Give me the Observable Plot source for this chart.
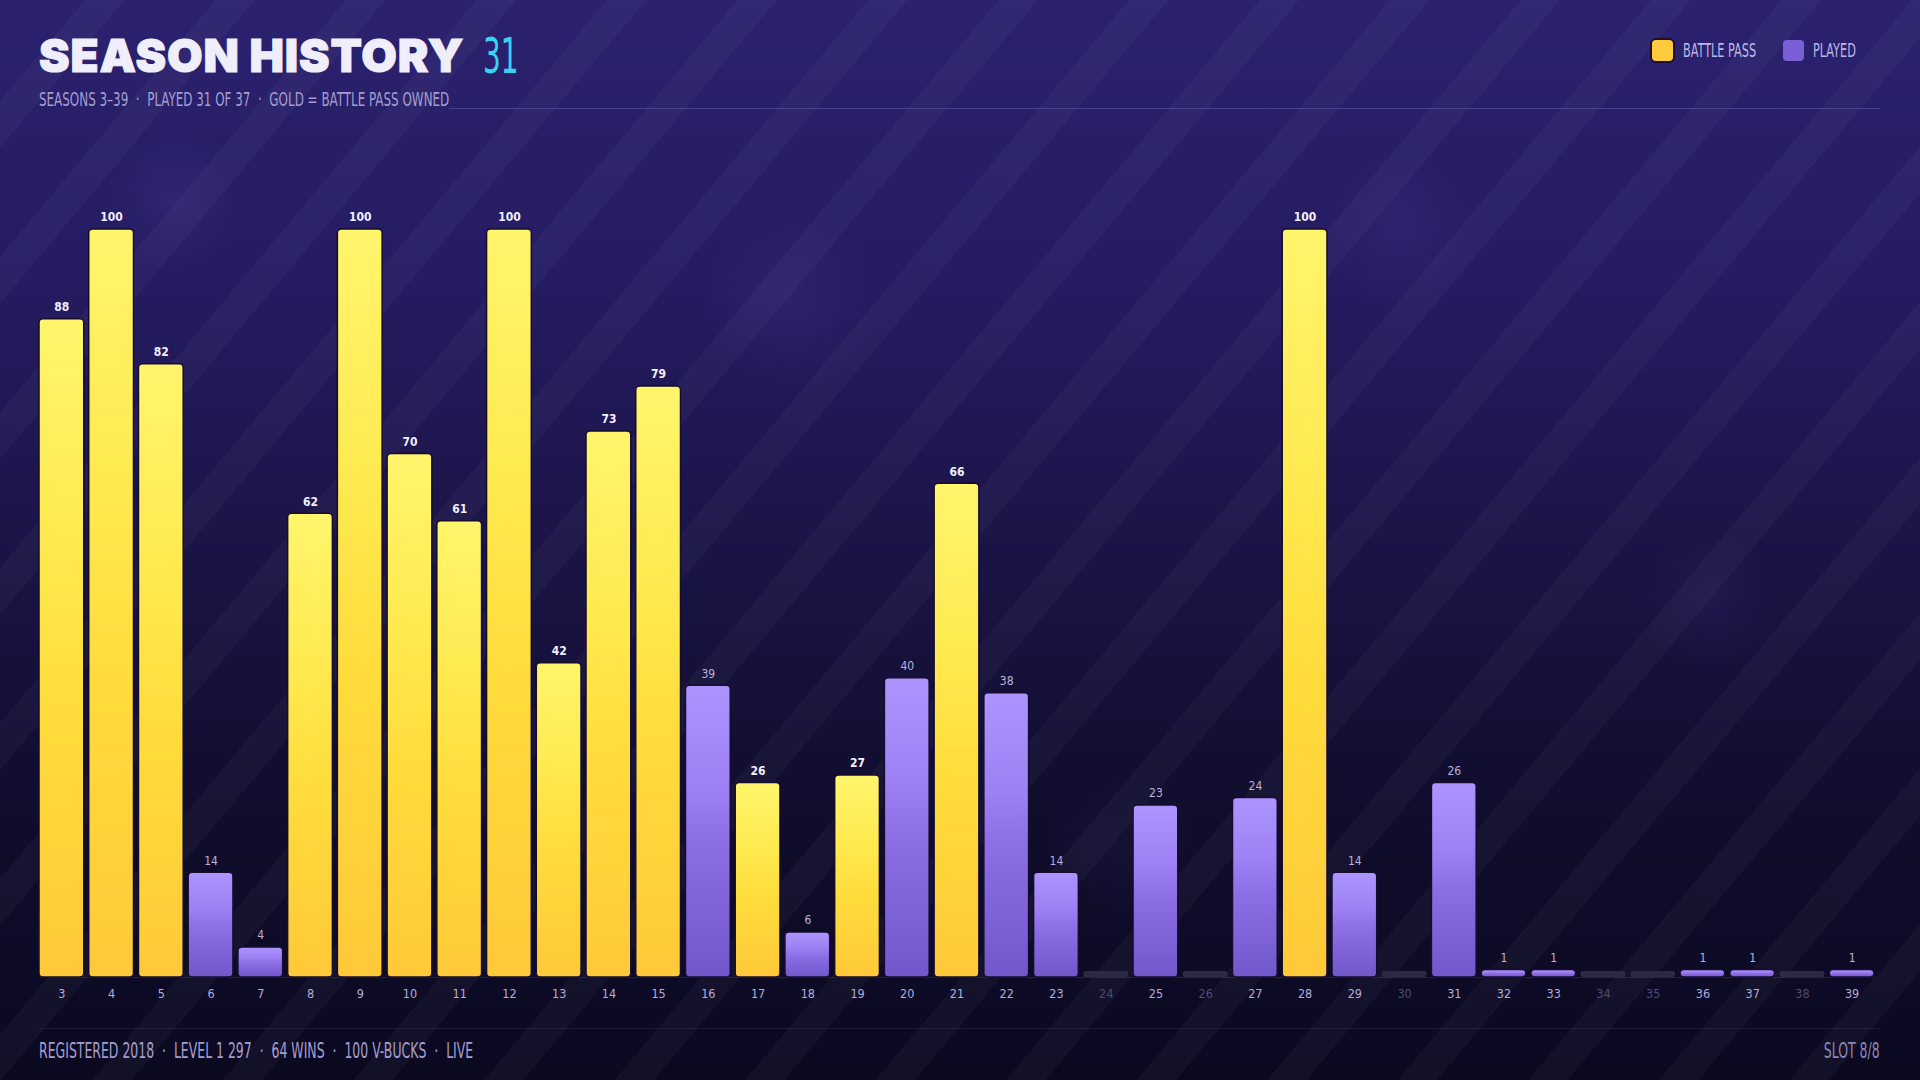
<!DOCTYPE html>
<html>
<head>
<meta charset="utf-8">
<script src="https://cdn.jsdelivr.net/npm/d3@7"></script>
<script src="https://cdn.jsdelivr.net/npm/@observablehq/plot@0.6"></script>
<style>
  html, body { margin:0; padding:0; }
  body {
    width:1920px; height:1080px; overflow:hidden; position:relative;
    background: linear-gradient(180deg, #2b216f 0%, #251c62 25%, #1a1445 52%, #100d2d 75%, #0b0920 100%);
    font-family: "DejaVu Sans", sans-serif; font-stretch: condensed;
  }
  #stripes {
    position:absolute; inset:0;
    background: repeating-linear-gradient(-50deg, rgba(255,255,255,0) 0px, rgba(255,255,255,0) 70px, rgba(255,255,255,0.03) 70px, rgba(255,255,255,0.03) 100px);
  }
  #blobs {
    position:absolute; inset:0;
    background:
      radial-gradient(circle at 175px 200px, rgba(120,100,220,0.10) 0, rgba(120,100,220,0) 70px),
      radial-gradient(circle at 790px 300px, rgba(120,100,220,0.10) 0, rgba(120,100,220,0) 90px),
      radial-gradient(circle at 1400px 230px, rgba(120,100,220,0.09) 0, rgba(120,100,220,0) 80px),
      radial-gradient(circle at 1710px 600px, rgba(120,100,220,0.07) 0, rgba(120,100,220,0) 70px),
      radial-gradient(circle at 1120px 850px, rgba(120,100,220,0.06) 0, rgba(120,100,220,0) 80px);
  }
  .abs { position:absolute; white-space:nowrap; }
  .sx { transform-origin: left center; }
  #title {
    left:39px; top:27px;
    font-family: "Inter", "Lato", sans-serif; font-weight:900; font-size:46px; line-height:56px;
    color:#f1eefc; letter-spacing:0.8px; -webkit-text-stroke: 1px #f1eefc;
  }
  #num {
    left:483px; top:26px; font-size:50px; line-height:60px; color:#39d3f2; transform: scaleX(0.62);
  }
  #sub { left:39px; top:88px; font-size:19.5px; color:#a49ed0; transform: scaleX(0.68); }
  #subline { left:449px; right:40px; top:108px; height:1px; background:rgba(150,130,230,0.30); }
  .sw { width:21px; height:21px; border-radius:4px; top:40px; }
  .lg { top:39px; font-size:19px; line-height:23px; color:#bdb7e6; transform: scaleX(0.66); }
  #chart { left:0; top:120px; }
  #botline { left:39px; right:40px; top:1028px; height:1px; background:rgba(255,255,255,0.07); }
  #foot { left:39px; top:1038px; font-size:22px; color:#a49ed0; transform: scaleX(0.63); }
  #slot { right:40px; top:1038px; font-size:22px; color:#8c86b8; transform: scaleX(0.63); transform-origin: right center; }
</style>
</head>
<body>
<div id="stripes"></div>
<div id="blobs"></div>
<div id="title" class="abs">SEASON HISTORY</div>
<div id="num" class="abs sx">31</div>
<div id="sub" class="abs sx">SEASONS 3–39 &nbsp;·&nbsp; PLAYED 31 OF 37 &nbsp;·&nbsp; GOLD = BATTLE PASS OWNED</div>
<div id="subline" class="abs"></div>
<div class="abs sw" style="left:1652px;background:#ffcb3a;box-shadow:0 0 0 2px #1a0f2e"></div>
<div class="abs lg sx" style="left:1683px">BATTLE PASS</div>
<div class="abs sw" style="left:1783px;background:#7a5fd8"></div>
<div class="abs lg sx" style="left:1813px">PLAYED</div>
<div id="chart" class="abs"></div>
<div id="botline" class="abs"></div>
<div id="foot" class="abs sx">REGISTERED 2018 &nbsp;·&nbsp; LEVEL 1 297 &nbsp;·&nbsp; 64 WINS &nbsp;·&nbsp; 100 V-BUCKS &nbsp;·&nbsp; LIVE</div>
<div id="slot" class="abs">SLOT 8/8</div>
<script>
// ---- data ----
const seasons = [3,4,5,6,7,8,9,10,11,12,13,14,15,16,17,18,19,20,21,22,23,24,25,26,27,28,29,30,31,32,33,34,35,36,37,38,39];
const levels  = [88,100,82,14,4,62,100,70,61,100,42,73,79,39,26,6,27,40,66,38,14,0,23,0,24,100,14,0,26,1,1,0,0,1,1,0,1];
const battlePass = [1,1,1,0,0,1,1,1,1,1,1,1,1,0,1,0,1,0,1,0,0,0,0,0,0,1,0,0,0,0,0,0,0,0,0,0,0];

const rows = seasons.map((s, i) => ({season: String(s), level: levels[i], bp: battlePass[i] === 1}));
const gold = rows.filter(d => d.level > 0 && d.bp);
const purple = rows.filter(d => d.level > 0 && !d.bp);
const empty = rows.filter(d => d.level === 0);
const played = rows.filter(d => d.level > 0);

const chart = Plot.plot({
  width: 1920,
  height: 887,
  marginLeft: 39,
  marginRight: 46,
  marginTop: 109,
  marginBottom: 30,
  style: {background: "transparent", overflow: "visible"},
  x: {type: "band", domain: seasons.map(String), paddingInner: 0.1, paddingOuter: 0, round: false, axis: null},
  y: {domain: [0, 100], axis: null},
  marks: [
    Plot.ruleY([0], {stroke: "rgba(160,150,220,0.16)", strokeWidth: 1}),
    Plot.barY(empty, {x: "season", y1: 0, y2: 0, insetTop: -6, fill: "#2c2944", rx: 2}),
    Plot.barY(gold, {x: "season", y: "level", fill: "url(#goldGrad)", stroke: "#150c30", strokeWidth: 1.5, rx: 4}),
    Plot.barY(purple, {x: "season", y: "level", fill: "url(#purpleGrad)", stroke: "#150c30", strokeWidth: 1.5, rx: 4}),
    Plot.text(gold, {x: "season", y: "level", text: d => String(d.level), dy: -12, fill: "#f2efff", fontSize: 12, fontWeight: 600}),
    Plot.text(purple, {x: "season", y: "level", text: d => String(d.level), dy: -12, fill: "#b9b2dc", fontSize: 12}),
    Plot.text(played, {x: "season", y: 0, text: "season", dy: 16, fill: "#b3add8", fontSize: 12.5}),
    Plot.text(empty, {x: "season", y: 0, text: "season", dy: 16, fill: "#4f4a72", fontSize: 12.5})
  ]
});

// gradients
const ns = "http://www.w3.org/2000/svg";
const defs = document.createElementNS(ns, "defs");
function grad(id, stops) {
  const g = document.createElementNS(ns, "linearGradient");
  g.setAttribute("id", id);
  g.setAttribute("x1", "0"); g.setAttribute("y1", "0");
  g.setAttribute("x2", "0"); g.setAttribute("y2", "1");
  stops.forEach(([o, c]) => {
    const s = document.createElementNS(ns, "stop");
    s.setAttribute("offset", o); s.setAttribute("stop-color", c);
    g.appendChild(s);
  });
  defs.appendChild(g);
}
grad("goldGrad", [["0", "#fff56c"], ["0.35", "#ffe94f"], ["0.6", "#ffdc3c"], ["1", "#ffc939"]]);
grad("purpleGrad", [["0", "#ad94ff"], ["0.35", "#9d80f4"], ["0.55", "#8b6de4"], ["1", "#7257cb"]]);
chart.insertBefore(defs, chart.firstChild);
chart.style.fontFamily = '"DejaVu Sans", sans-serif';
chart.style.fontStretch = 'condensed';
document.getElementById("chart").appendChild(chart);
</script>
</body>
</html>
